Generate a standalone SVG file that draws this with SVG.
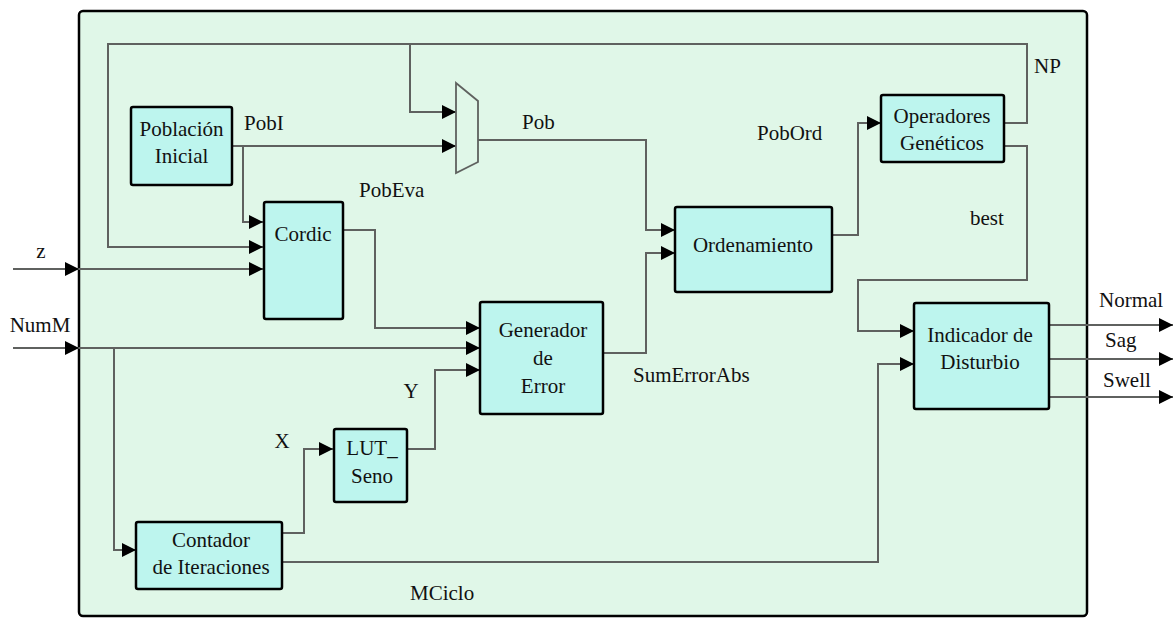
<svg xmlns="http://www.w3.org/2000/svg" width="1174" height="618" viewBox="0 0 1174 618">
<defs>
<marker id="arr" markerUnits="userSpaceOnUse" markerWidth="15" markerHeight="14" refX="14" refY="7" orient="auto">
<path d="M0,0 L14,7 L0,14 z" fill="#000"/>
</marker>
<style>
.frame{fill:#e0f7e8;stroke:#000;stroke-width:2.5}
.box{fill:#bdf5ee;stroke:#000;stroke-width:2.5}
.w{fill:none;stroke:#5f615f;stroke-width:2}
.a{marker-end:url(#arr)}
text{fill:#111;font-family:Liberation Serif, serif;font-size:21px}
.c{text-anchor:middle}
</style>
</defs>
<rect width="1174" height="618" fill="#fff"/>
<rect class="frame" x="79" y="11" width="1008" height="605" rx="4"/>

<g id="connectors">
<polyline class="w a" points="1004,123 1027,123 1027,44 108,44 108,247 263,247"/>
<polyline class="w a" points="410,44 410,112 456,112"/>
<polyline class="w a" points="232,146 456,146"/>
<polyline class="w a" points="243,146 243,222 263,222"/>
<polyline class="w a" points="13,269 79,269"/>
<polyline class="w a" points="79,269 263,269"/>
<polyline class="w a" points="13,348 79,348"/>
<polyline class="w a" points="79,348 480,348"/>
<polyline class="w a" points="114,348 114,550 136,550"/>
<polyline class="w a" points="343,230 375,230 375,328 480,328"/>
<polyline class="w a" points="282,533 304,533 304,449 333,449"/>
<polyline class="w a" points="407,449 435,449 435,370 480,370"/>
<polyline class="w a" points="478,140 646,140 646,230 675,230"/>
<polyline class="w a" points="603,353 646,353 646,253 675,253"/>
<polyline class="w a" points="832,235 858,235 858,123 881,123"/>
<polyline class="w a" points="1004,146 1027,146 1027,280 858,280 858,331 914,331"/>
<polyline class="w a" points="282,562 878,562 878,364 914,364"/>
<polyline class="w a" points="1049,325 1173,325"/>
<polyline class="w a" points="1049,359 1173,359"/>
<polyline class="w a" points="1049,397 1173,397"/>
</g>

<g id="mux">
<polygon points="456,83 478,101 478,162 456,173" fill="none" stroke="#5f615f" stroke-width="1.8"/>
</g>

<g id="poblacion">
<rect class="box" x="131" y="107" width="101" height="78" rx="2"/>
<text class="c" x="181.5" y="136">Población</text>
<text class="c" x="181.5" y="163">Inicial</text>
</g>
<g id="cordic">
<rect class="box" x="264" y="202" width="79" height="117" rx="2"/>
<text class="c" x="303" y="241">Cordic</text>
</g>
<g id="ordenamiento">
<rect class="box" x="675" y="207" width="157" height="85" rx="2"/>
<text class="c" x="753" y="252">Ordenamiento</text>
</g>
<g id="operadores">
<rect class="box" x="881" y="95" width="123" height="67" rx="2"/>
<text class="c" x="942" y="123">Operadores</text>
<text class="c" x="942" y="150">Genéticos</text>
</g>
<g id="generador">
<rect class="box" x="480" y="302" width="123" height="112" rx="2"/>
<text class="c" x="543" y="337">Generador</text>
<text class="c" x="543" y="365">de</text>
<text class="c" x="543" y="393">Error</text>
</g>
<g id="lut">
<rect class="box" x="334" y="429" width="73" height="73" rx="2"/>
<text class="c" x="372" y="455">LUT_</text>
<text class="c" x="372" y="483">Seno</text>
</g>
<g id="contador">
<rect class="box" x="136" y="522" width="146" height="67" rx="2"/>
<text class="c" x="211" y="547">Contador</text>
<text class="c" x="211" y="574">de Iteraciones</text>
</g>
<g id="indicador">
<rect class="box" x="914" y="303" width="135" height="106" rx="2"/>
<text class="c" x="980" y="342">Indicador de</text>
<text class="c" x="980" y="369">Disturbio</text>
</g>

<g id="labels">
<text x="244" y="130">PobI</text>
<text x="359" y="197">PobEva</text>
<text x="522" y="129">Pob</text>
<text x="757" y="140">PobOrd</text>
<text x="1034" y="73">NP</text>
<text x="970" y="225">best</text>
<text class="c" x="41" y="258">z</text>
<text class="c" x="40" y="332">NumM</text>
<text class="c" x="282" y="448">X</text>
<text class="c" x="411" y="398">Y</text>
<text x="410" y="600">MCiclo</text>
<text x="633" y="382">SumErrorAbs</text>
<text x="1099" y="307">Normal</text>
<text x="1105" y="347">Sag</text>
<text x="1103" y="387">Swell</text>
</g>
</svg>
